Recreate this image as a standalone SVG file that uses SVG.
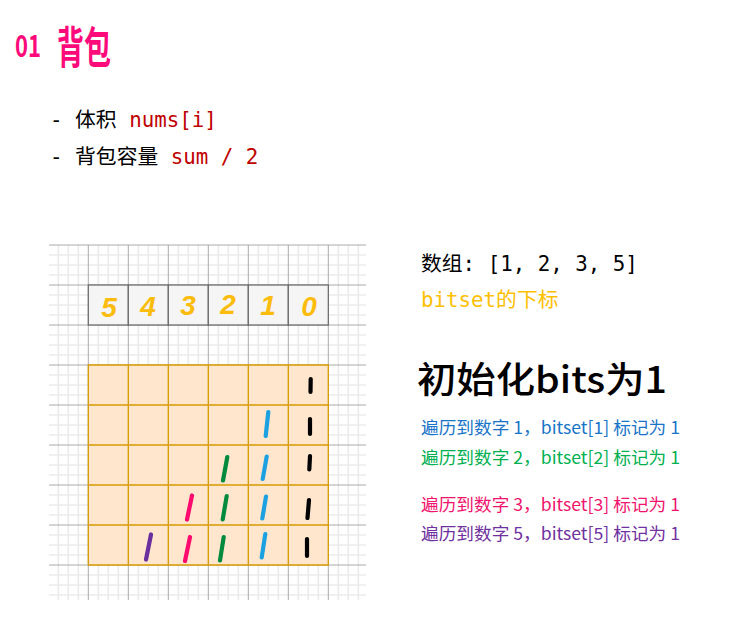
<svg xmlns="http://www.w3.org/2000/svg" width="736" height="634" viewBox="0 0 736 634">
<style>
.minor{stroke:#ebebeb;stroke-width:1.6;fill:none}
.major{stroke:#aaaaaa;stroke-width:1;fill:none}
.mono{font-family:"DejaVu Sans Mono","Liberation Mono","Noto Sans CJK SC",monospace;font-size:20.8px}
.idx{fill:#f5f5f5;stroke:#666666;stroke-width:1.2}
.cell{fill:#ffe6cc;stroke:#d79b00;stroke-width:1.3}
.dig{font-family:"Liberation Sans","Noto Sans",sans-serif;font-style:italic;font-weight:bold;font-size:28px;fill:#fbbc0c;text-anchor:middle}
.mk{stroke-width:4.2;stroke-linecap:round;fill:none}
.note{font-family:"Noto Sans CJK SC","Noto Sans",sans-serif;font-size:17px}
</style>
<rect width="736" height="634" fill="#ffffff"/>
<g id="title">
<text x="15" y="57" font-family="Noto Sans CJK SC,sans-serif" font-size="30" font-weight="bold" fill="#ff0a7a" textLength="26" lengthAdjust="spacingAndGlyphs">01</text>
<text x="57" y="64" font-family="Noto Sans CJK SC,sans-serif" font-size="44" font-weight="bold" fill="#ff0a7a" textLength="54" lengthAdjust="spacingAndGlyphs">背包</text>
</g>
<g id="bullets">
<text x="50" y="127" class="mono" fill="#000">- 体积 <tspan fill="#c00000">nums[i]</tspan></text>
<text x="50" y="164" class="mono" fill="#000">- 背包容量 <tspan fill="#c00000">sum / 2</tspan></text>
</g>
<g id="grid">
<path class="minor" d="M58.3 245V600M68.3 245V600M78.3 245V600M98.3 245V600M108.3 245V600M118.3 245V600M138.3 245V600M148.3 245V600M158.3 245V600M178.3 245V600M188.3 245V600M198.3 245V600M218.3 245V600M228.3 245V600M238.3 245V600M258.3 245V600M268.3 245V600M278.3 245V600M298.3 245V600M308.3 245V600M318.3 245V600M338.3 245V600M348.3 245V600M358.3 245V600"/>
<path class="minor" d="M49 255H366M49 265H366M49 275H366M49 295H366M49 305H366M49 315H366M49 335H366M49 345H366M49 355H366M49 375H366M49 385H366M49 395H366M49 415H366M49 425H366M49 435H366M49 455H366M49 465H366M49 475H366M49 495H366M49 505H366M49 515H366M49 535H366M49 545H366M49 555H366M49 575H366M49 585H366M49 595H366"/>
<path class="major" d="M88.3 245V600M128.3 245V600M168.3 245V600M208.3 245V600M248.3 245V600M288.3 245V600M328.3 245V600M49 245H366M49 285H366M49 325H366M49 365H366M49 405H366M49 445H366M49 485H366M49 525H366M49 565H366"/>
</g>
<g id="index-row">
<rect class="idx" x="88.3" y="285" width="40" height="40"/>
<rect class="idx" x="128.3" y="285" width="40" height="40"/>
<rect class="idx" x="168.3" y="285" width="40" height="40"/>
<rect class="idx" x="208.3" y="285" width="40" height="40"/>
<rect class="idx" x="248.3" y="285" width="40" height="40"/>
<rect class="idx" x="288.3" y="285" width="40" height="40"/>
<text class="dig" x="109" y="317">5</text>
<text class="dig" x="148" y="316">4</text>
<text class="dig" x="188" y="315">3</text>
<text class="dig" x="228" y="314">2</text>
<text class="dig" x="268" y="315">1</text>
<text class="dig" x="309" y="316">0</text>
</g>
<g id="bit-table">
<path class="cell" d="M88.3 365H328.3V565H88.3Z"/>
<path class="cell" fill="none" d="M128.3 365V565M168.3 365V565M208.3 365V565M248.3 365V565M288.3 365V565M88.3 405H328.3M88.3 445H328.3M88.3 485H328.3M88.3 525H328.3"/>
</g>
<g id="marks">
<path class="mk" stroke="#000000" d="M310.7 379L310.5 392M310 419L310 434M310 456L309.3 469.5M309 500L307.5 518M307 539L307 556"/>
<path class="mk" stroke="#1ba1e2" d="M268.3 412L265.7 436M266.7 456.5L262.7 479M266 496.5L262.3 518.5M265.3 534L261.7 557.5"/>
<path class="mk" stroke="#008a3e" d="M227.3 457L223 480.5M226.7 496L222.7 519.5M223.7 537L220 560.5"/>
<path class="mk" stroke="#ff0a6e" d="M192 495.5L187 519.5M190 537L185 561"/>
<path class="mk" stroke="#6a2f9e" d="M151 534.5L146 559.5"/>
</g>
<g id="legend">
<text x="421" y="271" class="mono" fill="#000">数组: [1, 2, 3, 5]</text>
<text x="421" y="307" class="mono" fill="#ffc000">bitset的下标</text>
<text x="417" y="393" font-family="Noto Sans CJK SC,sans-serif" font-size="36" font-weight="500" fill="#000" textLength="250" lengthAdjust="spacingAndGlyphs">初始化bits为1</text>
<text x="421" y="434" class="note" fill="#1874c8" textLength="259" lengthAdjust="spacingAndGlyphs">遍历到数字 1，bitset[1] 标记为 1</text>
<text x="421" y="464" class="note" fill="#00b050" textLength="259" lengthAdjust="spacingAndGlyphs">遍历到数字 2，bitset[2] 标记为 1</text>
<text x="421" y="511" class="note" fill="#f0146e" textLength="259" lengthAdjust="spacingAndGlyphs">遍历到数字 3，bitset[3] 标记为 1</text>
<text x="421" y="540" class="note" fill="#7030a0" textLength="259" lengthAdjust="spacingAndGlyphs">遍历到数字 5，bitset[5] 标记为 1</text>
</g>
</svg>
